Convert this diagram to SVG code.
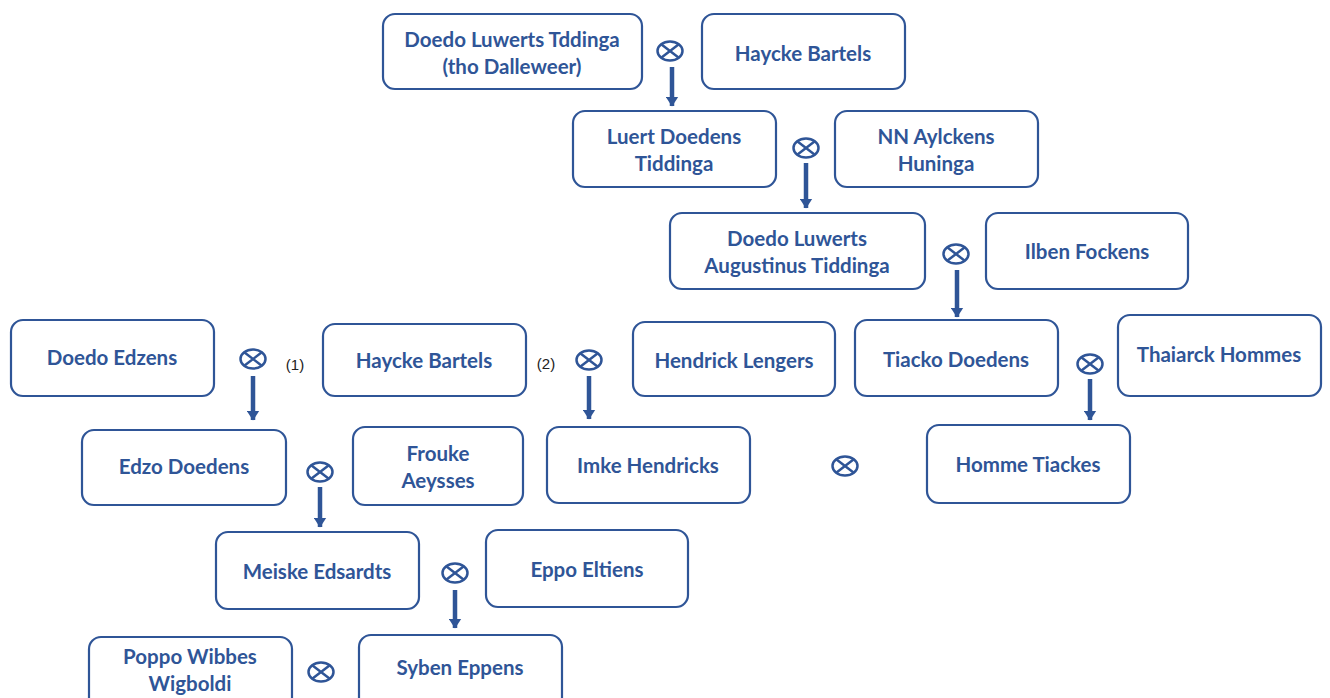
<svg xmlns="http://www.w3.org/2000/svg" width="1330" height="698" viewBox="0 0 1330 698">
<defs>
<style>
.box{fill:#fff;stroke:#2F5597;stroke-width:2.2}
.t{font-family:Lato,"Open Sans","Liberation Sans",sans-serif;font-weight:bold;font-size:20.5px;fill:#2F5597;text-anchor:middle}
.m{fill:none;stroke:#2F5597;stroke-width:2.5}
.n{font-family:"Liberation Sans",sans-serif;font-size:15px;fill:#222;text-anchor:middle}
.a{stroke:#2F5597;stroke-width:4.5;fill:none}
</style>
<marker id="ah" viewBox="0 0 10 13" refX="9.5" refY="6.5" markerWidth="10" markerHeight="13" markerUnits="userSpaceOnUse" orient="auto">
<path d="M0,0 L10,6.5 L0,13 Z" fill="#2F5597"/>
</marker>
<g id="x"><ellipse rx="12.5" ry="9.5" class="m"/><path d="M-8.8,-6.7 L8.8,6.7 M8.8,-6.7 L-8.8,6.7" class="m"/></g>
</defs>
<rect width="1330" height="698" fill="#fff"/>
<g id="n1"><rect class="box" x="383" y="14" width="259" height="75" rx="12"/><text class="t" x="512" y="47">Doedo Luwerts Tddinga</text><text class="t" x="512" y="74">(tho Dalleweer)</text></g>
<g id="n2"><rect class="box" x="702" y="14" width="203" height="75" rx="12"/><text class="t" x="803" y="61">Haycke Bartels</text></g>
<g id="n3"><rect class="box" x="573" y="111" width="203" height="76" rx="12"/><text class="t" x="674" y="144">Luert Doedens</text><text class="t" x="674" y="171">Tiddinga</text></g>
<g id="n4"><rect class="box" x="835" y="111" width="203" height="76" rx="12"/><text class="t" x="936" y="144">NN Aylckens</text><text class="t" x="936" y="171">Huninga</text></g>
<g id="n5"><rect class="box" x="670" y="213" width="255" height="76" rx="12"/><text class="t" x="797" y="246">Doedo Luwerts</text><text class="t" x="797" y="273">Augustinus Tiddinga</text></g>
<g id="n6"><rect class="box" x="986" y="213" width="202" height="76" rx="12"/><text class="t" x="1087" y="259">Ilben Fockens</text></g>
<g id="n7"><rect class="box" x="11" y="320" width="203" height="76" rx="12"/><text class="t" x="112" y="365">Doedo Edzens</text></g>
<g id="n8"><rect class="box" x="323" y="324" width="203" height="72" rx="12"/><text class="t" x="424" y="368">Haycke Bartels</text></g>
<g id="n9"><rect class="box" x="633" y="322" width="202" height="74" rx="12"/><text class="t" x="734" y="368">Hendrick Lengers</text></g>
<g id="n10"><rect class="box" x="855" y="320" width="203" height="76" rx="12"/><text class="t" x="956" y="367">Tiacko Doedens</text></g>
<g id="n11"><rect class="box" x="1118" y="315" width="203" height="81" rx="12"/><text class="t" x="1219" y="362">Thaiarck Hommes</text></g>
<g id="n12"><rect class="box" x="82" y="430" width="204" height="75" rx="12"/><text class="t" x="184" y="474">Edzo Doedens</text></g>
<g id="n13"><rect class="box" x="353" y="427" width="170" height="78" rx="12"/><text class="t" x="438" y="461">Frouke</text><text class="t" x="438" y="488">Aeysses</text></g>
<g id="n14"><rect class="box" x="547" y="427" width="203" height="76" rx="12"/><text class="t" x="648" y="473">Imke Hendricks</text></g>
<g id="n15"><rect class="box" x="927" y="425" width="203" height="78" rx="12"/><text class="t" x="1028" y="472">Homme Tiackes</text></g>
<g id="n16"><rect class="box" x="216" y="532" width="203" height="77" rx="12"/><text class="t" x="317" y="579">Meiske Edsardts</text></g>
<g id="n17"><rect class="box" x="486" y="530" width="202" height="77" rx="12"/><text class="t" x="587" y="577">Eppo Eltiens</text></g>
<g id="n18"><rect class="box" x="89" y="637" width="203" height="75" rx="12"/><text class="t" x="190" y="664">Poppo Wibbes</text><text class="t" x="190" y="691">Wigboldi</text></g>
<g id="n19"><rect class="box" x="359" y="635" width="203" height="75" rx="12"/><text class="t" x="460" y="675">Syben Eppens</text></g>
<g id="connectors">
<use href="#x" x="670" y="51"/>
<use href="#x" x="806" y="148"/>
<use href="#x" x="956" y="254"/>
<use href="#x" x="253" y="359"/>
<use href="#x" x="589" y="360"/>
<use href="#x" x="1090" y="364"/>
<use href="#x" x="320" y="472"/>
<use href="#x" x="845" y="466"/>
<use href="#x" x="455" y="573"/>
<use href="#x" x="321" y="672"/>
<path class="a" d="M672,67 V106" marker-end="url(#ah)"/>
<path class="a" d="M806,163 V208" marker-end="url(#ah)"/>
<path class="a" d="M957,270 V317" marker-end="url(#ah)"/>
<path class="a" d="M253,376 V420" marker-end="url(#ah)"/>
<path class="a" d="M589,376 V419" marker-end="url(#ah)"/>
<path class="a" d="M1090,379 V420" marker-end="url(#ah)"/>
<path class="a" d="M320,487 V527" marker-end="url(#ah)"/>
<path class="a" d="M455,590 V628" marker-end="url(#ah)"/>
<text class="n" x="295" y="370">(1)</text>
<text class="n" x="546" y="369">(2)</text>
</g>
</svg>
